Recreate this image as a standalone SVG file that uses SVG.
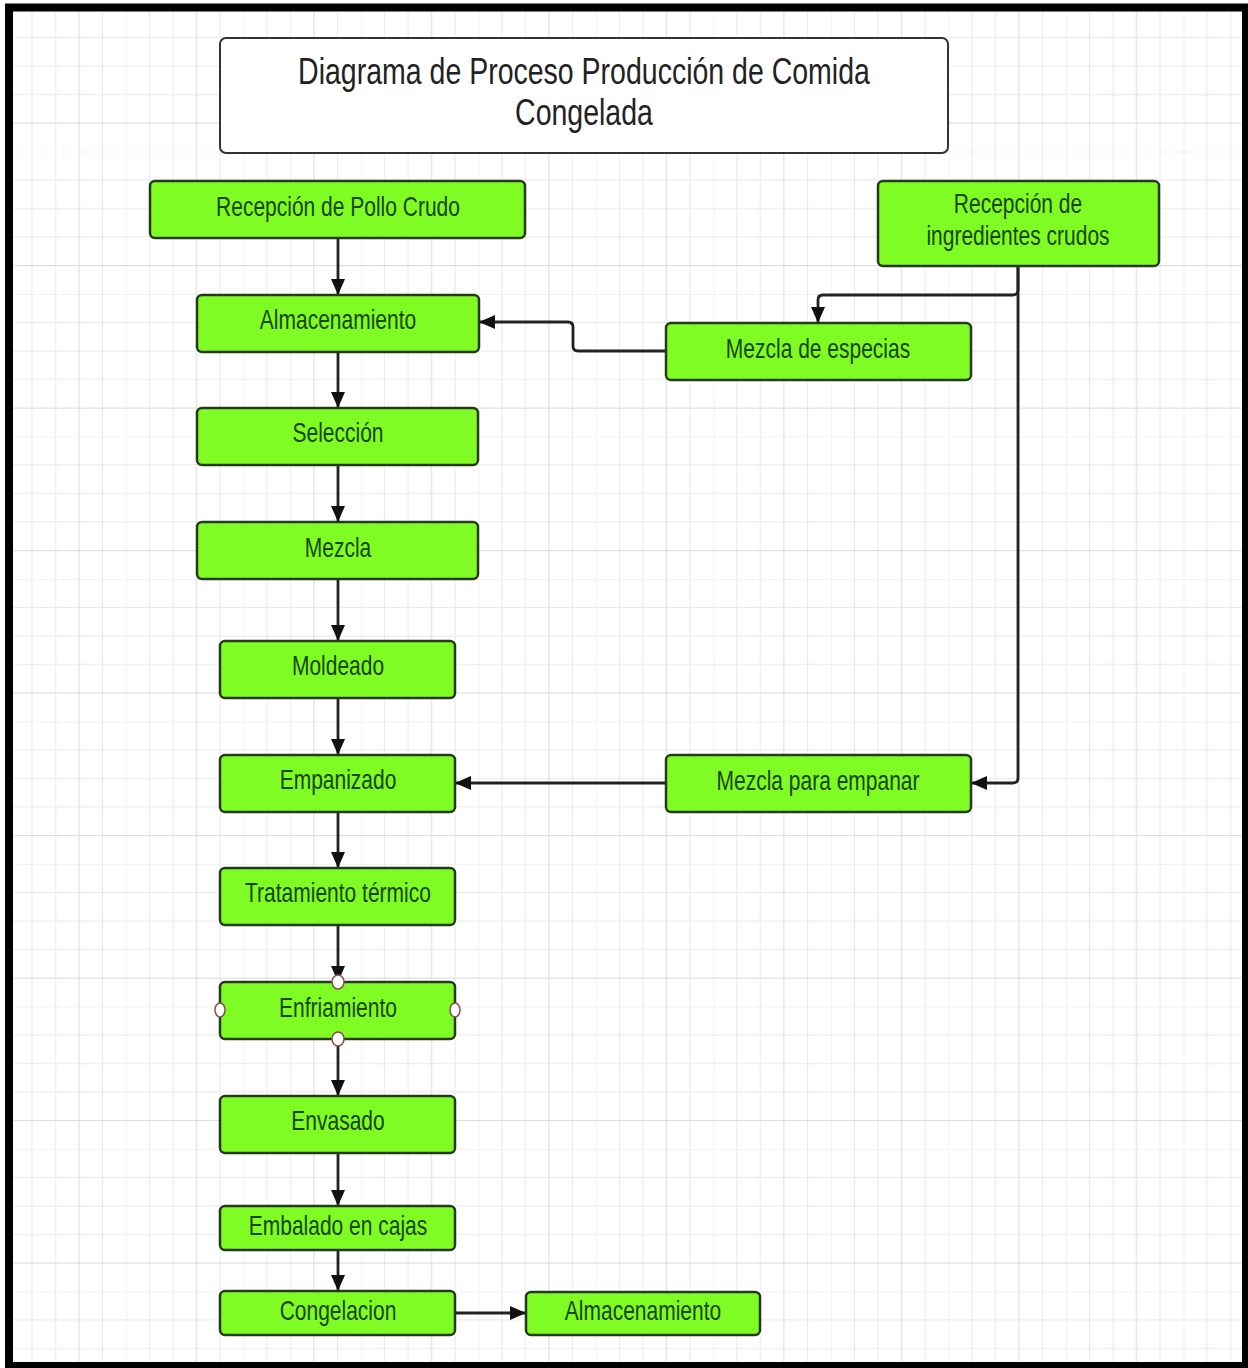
<svg xmlns="http://www.w3.org/2000/svg" width="1248" height="1368" viewBox="0 0 1248 1368">
<style>
.node rect{fill:#7ffc24;stroke:#263a18;stroke-width:2.5}
.node text{font-family:"Liberation Sans",Arial,sans-serif;font-size:21px;fill:#1a4606;text-anchor:middle}
.title rect{fill:#ffffff;stroke:#333333;stroke-width:2}
.title text{font-family:"Liberation Sans",Arial,sans-serif;font-size:28.5px;fill:#222222;text-anchor:middle}
.conn path{fill:none;stroke:#222222;stroke-width:2.8;marker-end:url(#arr)}
.port{fill:#ffffff;stroke:#8a4e4e;stroke-width:1.5}
</style>
<defs>
<pattern id="grid" patternUnits="userSpaceOnUse" x="8.5" y="9" width="117.5" height="142.5">
<g stroke="#e8e8e8" stroke-width="1">
<line x1="0" y1="0" x2="0" y2="142.5"/><line x1="23.5" y1="0" x2="23.5" y2="142.5"/><line x1="47" y1="0" x2="47" y2="142.5"/><line x1="94" y1="0" x2="94" y2="142.5"/>
<line x1="0" y1="0" x2="117.5" y2="0"/><line x1="0" y1="28.5" x2="117.5" y2="28.5"/><line x1="0" y1="57" x2="117.5" y2="57"/><line x1="0" y1="85.5" x2="117.5" y2="85.5"/>
</g>
<g stroke="#d9d9d9" stroke-width="1">
<line x1="70.5" y1="0" x2="70.5" y2="142.5"/>
<line x1="0" y1="114" x2="117.5" y2="114"/>
</g>
</pattern>
<marker id="arr" viewBox="0 0 16 14" refX="16" refY="7" markerWidth="16" markerHeight="14" markerUnits="userSpaceOnUse" orient="auto">
<path d="M0,0 L16,7 L0,14 z" fill="#111111"/>
</marker>
</defs>
<rect x="0" y="0" width="1248" height="1368" fill="#ffffff"/>
<rect x="9" y="7.5" width="1237" height="1358.5" fill="url(#grid)"/>
<rect x="9" y="7.5" width="1237" height="1358.5" fill="none" stroke="#000000" stroke-width="8"/>

<g id="title" class="title">
<rect x="220" y="38" width="728" height="115" rx="6"/>
<text x="584" y="84" transform="matrix(1,0,0,1.3,0,-25.2)">Diagrama de Proceso Producción de Comida</text>
<text x="584" y="125" transform="matrix(1,0,0,1.3,0,-37.5)">Congelada</text>
</g>

<g id="connectors" class="conn">
<path d="M338,238 V295"/>
<path d="M338,352 V408"/>
<path d="M338,465 V522"/>
<path d="M338,579 V641"/>
<path d="M338,698 V755"/>
<path d="M338,812 V868"/>
<path d="M338,925 V982"/>
<path d="M338,1039 V1096"/>
<path d="M338,1153 V1206"/>
<path d="M338,1250 V1291"/>
<path d="M1018,266 V290 Q1018,295 1013,295 H823 Q818,295 818,300 V323"/>
<path d="M1018,266 V778 Q1018,783 1013,783 H971"/>
<path d="M666,351 H578 Q573,351 573,346 V327 Q573,322 568,322 H479"/>
<path d="M666,783 H455"/>
<path d="M455,1313 H526"/>
</g>

<g id="n-pollo" class="node"><rect x="150" y="181" width="375" height="57" rx="5"/><text x="338" y="216" transform="matrix(1,0,0,1.3,0,-64.8)">Recepción de Pollo Crudo</text></g>
<g id="n-ingredientes" class="node"><rect x="878" y="181" width="281" height="85" rx="5"/><text x="1018" y="213" transform="matrix(1,0,0,1.3,0,-63.9)">Recepción de</text><text x="1018" y="245" transform="matrix(1,0,0,1.3,0,-73.5)">ingredientes crudos</text></g>
<g id="n-almacenamiento1" class="node"><rect x="197" y="295" width="282" height="57" rx="5"/><text x="338" y="329.5" transform="matrix(1,0,0,1.3,0,-98.85)">Almacenamiento</text></g>
<g id="n-especias" class="node"><rect x="666" y="323" width="305" height="57" rx="5"/><text x="818" y="358.5" transform="matrix(1,0,0,1.3,0,-107.55)">Mezcla de especias</text></g>
<g id="n-seleccion" class="node"><rect x="197" y="408" width="281" height="57" rx="5"/><text x="338" y="442.5" transform="matrix(1,0,0,1.3,0,-132.75)">Selección</text></g>
<g id="n-mezcla" class="node"><rect x="197" y="522" width="281" height="57" rx="5"/><text x="338" y="557" transform="matrix(1,0,0,1.3,0,-167.1)">Mezcla</text></g>
<g id="n-moldeado" class="node"><rect x="220" y="641" width="235" height="57" rx="5"/><text x="338" y="675.5" transform="matrix(1,0,0,1.3,0,-202.65)">Moldeado</text></g>
<g id="n-empanizado" class="node"><rect x="220" y="755" width="235" height="57" rx="5"/><text x="338" y="789.5" transform="matrix(1,0,0,1.3,0,-236.85)">Empanizado</text></g>
<g id="n-empanar" class="node"><rect x="666" y="755" width="305" height="57" rx="5"/><text x="818" y="790.5" transform="matrix(1,0,0,1.3,0,-237.15)">Mezcla para empanar</text></g>
<g id="n-tratamiento" class="node"><rect x="220" y="868" width="235" height="57" rx="5"/><text x="338" y="902.5" transform="matrix(1,0,0,1.3,0,-270.75)">Tratamiento térmico</text></g>
<g id="n-enfriamiento" class="node"><rect x="220" y="982" width="235" height="57" rx="5"/><text x="338" y="1017.5" transform="matrix(1,0,0,1.3,0,-305.25)">Enfriamiento</text>
<ellipse class="port" cx="338" cy="982" rx="6" ry="7"/><ellipse class="port" cx="338" cy="1039" rx="6" ry="7"/><ellipse class="port" cx="220" cy="1010" rx="5" ry="7"/><ellipse class="port" cx="455" cy="1010" rx="5" ry="7"/></g>
<g id="n-envasado" class="node"><rect x="220" y="1096" width="235" height="57" rx="5"/><text x="338" y="1130.5" transform="matrix(1,0,0,1.3,0,-339.15)">Envasado</text></g>
<g id="n-embalado" class="node"><rect x="220" y="1206" width="235" height="44" rx="5"/><text x="338" y="1235.5" transform="matrix(1,0,0,1.3,0,-370.65)">Embalado en cajas</text></g>
<g id="n-congelacion" class="node"><rect x="220" y="1291" width="235" height="44" rx="5"/><text x="338" y="1320.5" transform="matrix(1,0,0,1.3,0,-396.15)">Congelacion</text></g>
<g id="n-almacenamiento2" class="node"><rect x="526" y="1292" width="234" height="43" rx="5"/><text x="643" y="1320.5" transform="matrix(1,0,0,1.3,0,-396.15)">Almacenamiento</text></g>
</svg>
